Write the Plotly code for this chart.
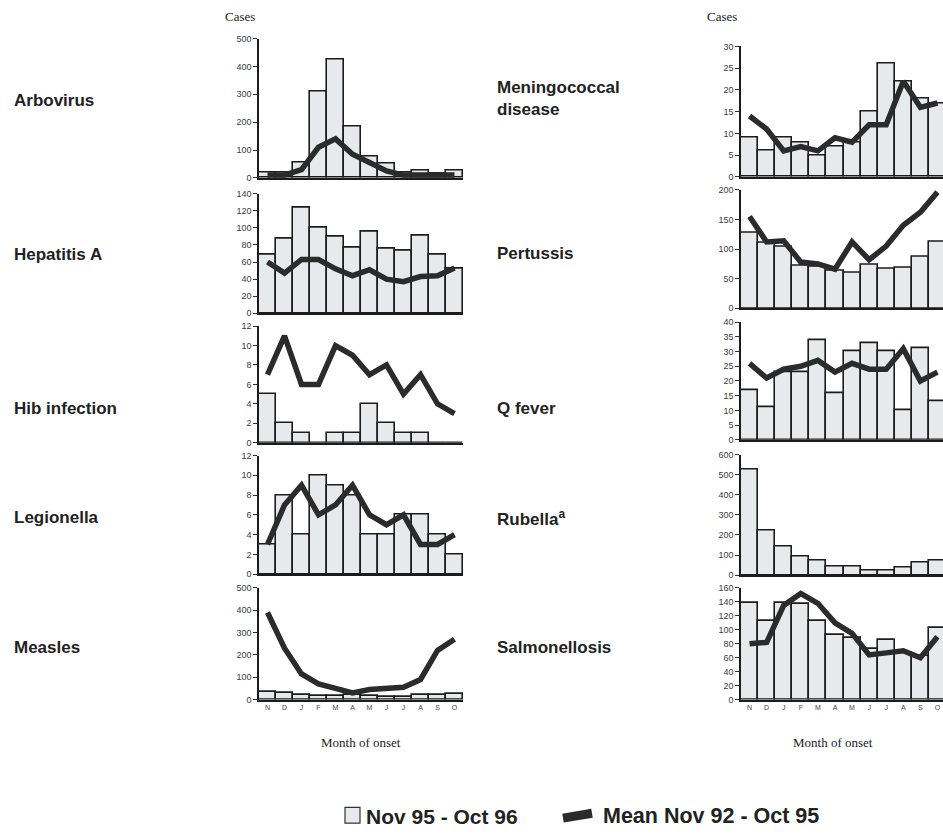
import plotly.graph_objects as go

months = ["N", "D", "J", "F", "M", "A", "M", "J", "J", "A", "S", "O"]

diseases = ["Arbovirus", "Hepatitis A", "Hib infection", "Legionella", "Measles",
            "Meningococcal<br>disease", "Pertussis", "Q fever", "Rubella<sup>a</sup>", "Salmonellosis"]

arbovirus_cur = [20, 20, 55, 310, 425, 185, 75, 50, 20, 25, 15, 25]
arbovirus_mean = [10, 10, 30, 110, 140, 85, 55, 25, 10, 10, 10, 10]
hepa_cur = [68, 87, 124, 100, 90, 77, 96, 76, 73, 91, 68, 52]
hepa_mean = [60, 47, 63, 63, 52, 44, 51, 40, 37, 43, 44, 53]
hib_cur = [5, 2, 1, 0, 1, 1, 4, 2, 1, 1, 0, 0]
hib_mean = [7, 11, 6, 6, 10, 9, 7, 8, 5, 7, 4, 3]
legio_cur = [3, 8, 4, 10, 9, 8, 4, 4, 6, 6, 4, 2]
legio_mean = [3, 7, 9, 6, 7, 9, 6, 5, 6, 3, 3, 4]
measles_cur = [35, 30, 20, 15, 15, 20, 15, 10, 10, 20, 20, 25]
measles_mean = [390, 230, 115, 70, 50, 30, 45, 50, 55, 90, 220, 270]
mening_cur = [9, 6, 9, 8, 5, 7, 8, 15, 26, 22, 18, 17]
mening_mean = [14, 11, 6, 7, 6, 9, 8, 12, 12, 22, 16, 17]
pert_cur = [128, 110, 104, 72, 70, 63, 60, 73, 66, 69, 87, 112]
pert_mean = [155, 112, 114, 78, 75, 66, 112, 82, 105, 140, 162, 196]
qfever_cur = [17, 11, 23, 23, 34, 16, 30, 33, 30, 10, 31, 13]
qfever_mean = [26, 21, 24, 25, 27, 23, 26, 24, 24, 31, 20, 23]
rubella_cur = [525, 220, 140, 90, 70, 45, 45, 25, 25, 40, 60, 70]
salmo_cur = [138, 113, 138, 137, 113, 92, 88, 72, 85, 67, 62, 103]
salmo_mean = [80, 82, 135, 152, 138, 110, 95, 64, 67, 70, 60, 90]

cur_series = [arbovirus_cur, hepa_cur, hib_cur, legio_cur, measles_cur,
              mening_cur, pert_cur, qfever_cur, rubella_cur, salmo_cur]
mean_series = [arbovirus_mean, hepa_mean, hib_mean, legio_mean, measles_mean,
               mening_mean, pert_mean, qfever_mean, None, salmo_mean]
y_max = [500, 140, 12, 12, 500, 30, 200, 40, 600, 160]
y_step = [100, 20, 2, 2, 100, 5, 50, 5, 100, 20]

legend_labels = ["Nov 95 - Oct 96", "Mean Nov 92 - Oct 95"]

W, H = 943, 838
BAR_FILL = "#e7eaea"
INK = "#1c1c1c"
LINE_C = "#2b2b2b"

# pixel layout (top, bottom) for each panel
px_rows = [(34, 175), (191, 312), (325, 443), (456, 576), (590, 703),
           (42, 174), (187, 307), (321, 440), (455, 577), (590, 703)]
px_cols = [(259, 463), (741, 946)]
label_y = [97, 253, 408, 519, 650, 95, 252, 408, 519, 650]
label_x = [12, 495]

fig = go.Figure()
layout = {}
x_idx = list(range(12))
for i in range(10):
    col = 0 if i < 5 else 1
    ax = "" if i == 0 else str(i + 1)
    xa, ya = "x" + ax, "y" + ax
    fig.add_trace(go.Bar(
        x=x_idx, y=cur_series[i], xaxis=xa, yaxis=ya,
        marker=dict(color=BAR_FILL, line=dict(color=INK, width=1.6)),
        name=legend_labels[0], showlegend=False))
    if mean_series[i] is not None:
        fig.add_trace(go.Scatter(
            x=x_idx, y=mean_series[i], xaxis=xa, yaxis=ya, mode="lines",
            line=dict(color=LINE_C, width=5.5),
            name=legend_labels[1], showlegend=False))
    top, bot = px_rows[i]
    x0, x1 = px_cols[col]
    bottom_panel = i in (4, 9)
    if x1 <= W:
        dom = [x0 / W, x1 / W]
        rng = [-0.5, 11.5]
    else:
        # right column runs slightly past the page edge (last bar is clipped)
        dom = [x0 / W, 1.0]
        rng = [-0.5, -0.5 + 12 * (W - x0) / (x1 - x0)]
    layout["xaxis" + ax] = dict(
        domain=dom, anchor=ya, range=rng,
        showline=True, linecolor=INK, linewidth=1.5,
        tickmode="array", tickvals=x_idx, ticktext=months,
        showticklabels=bottom_panel, ticks="",
        tickfont=dict(family="Liberation Sans, Arial", size=7, color="#444"),
        showgrid=False, zeroline=False, fixedrange=True)
    layout["yaxis" + ax] = dict(
        domain=[1 - bot / H, 1 - top / H], anchor=xa, range=[0, y_max[i]],
        showline=True, linecolor=INK, linewidth=1.5,
        tickmode="linear", tick0=0, dtick=y_step[i],
        ticks="outside", ticklen=4, tickcolor="#333",
        tickfont=dict(family="Liberation Sans, Arial", size=9, color="#3a3a3a"),
        showgrid=False, zeroline=False, fixedrange=True)

annotations = []
for i, name in enumerate(diseases):
    col = 0 if i < 5 else 1
    annotations.append(dict(
        text="<b>" + name + "</b>", xref="paper", yref="paper",
        x=label_x[col] / W, y=1 - label_y[i] / H, xanchor="left", yanchor="middle",
        align="left", showarrow=False,
        font=dict(family="Liberation Sans, Arial", size=17, color="#222")))
for cx in (240, 722):
    annotations.append(dict(
        text="Cases", xref="paper", yref="paper", x=cx / W, y=1 - 12 / H,
        xanchor="center", yanchor="middle", showarrow=False,
        font=dict(family="Liberation Serif, Times New Roman", size=13, color="#222")))
for cx in (361, 833):
    annotations.append(dict(
        text="Month of onset", xref="paper", yref="paper", x=cx / W, y=1 - 746 / H,
        xanchor="center", yanchor="middle", showarrow=False,
        font=dict(family="Liberation Serif, Times New Roman", size=13, color="#222")))

# legend (drawn manually to match the original placement)
ly = 1 - 821 / H
annotations.append(dict(
    text="<b>" + legend_labels[0] + "</b>", xref="paper", yref="paper", x=364 / W, y=ly,
    xanchor="left", yanchor="middle", showarrow=False,
    font=dict(family="Liberation Sans, Arial", size=21, color="#222")))
annotations.append(dict(
    text="<b>" + legend_labels[1] + "</b>", xref="paper", yref="paper", x=601 / W, y=ly,
    xanchor="left", yanchor="middle", showarrow=False,
    font=dict(family="Liberation Sans, Arial", size=21.5, color="#222")))
shapes = [
    dict(type="rect", xref="paper", yref="paper", x0=345 / W, x1=360 / W,
         y0=1 - 828 / H, y1=1 - 812 / H, fillcolor=BAR_FILL, line=dict(color="#333", width=1.2)),
    dict(type="line", xref="paper", yref="paper", x0=563 / W, x1=592 / W,
         y0=1 - 823 / H, y1=1 - 818 / H, line=dict(color=LINE_C, width=9)),
]

fig.update_layout(
    width=W, height=H, margin=dict(l=0, r=0, t=0, b=0),
    paper_bgcolor="white", plot_bgcolor="white",
    bargap=0, annotations=annotations, shapes=shapes, showlegend=False,
    **layout)

fig.write_html("out.html", config={"displayModeBar": False},
               post_script="document.body.style.margin='0';")
